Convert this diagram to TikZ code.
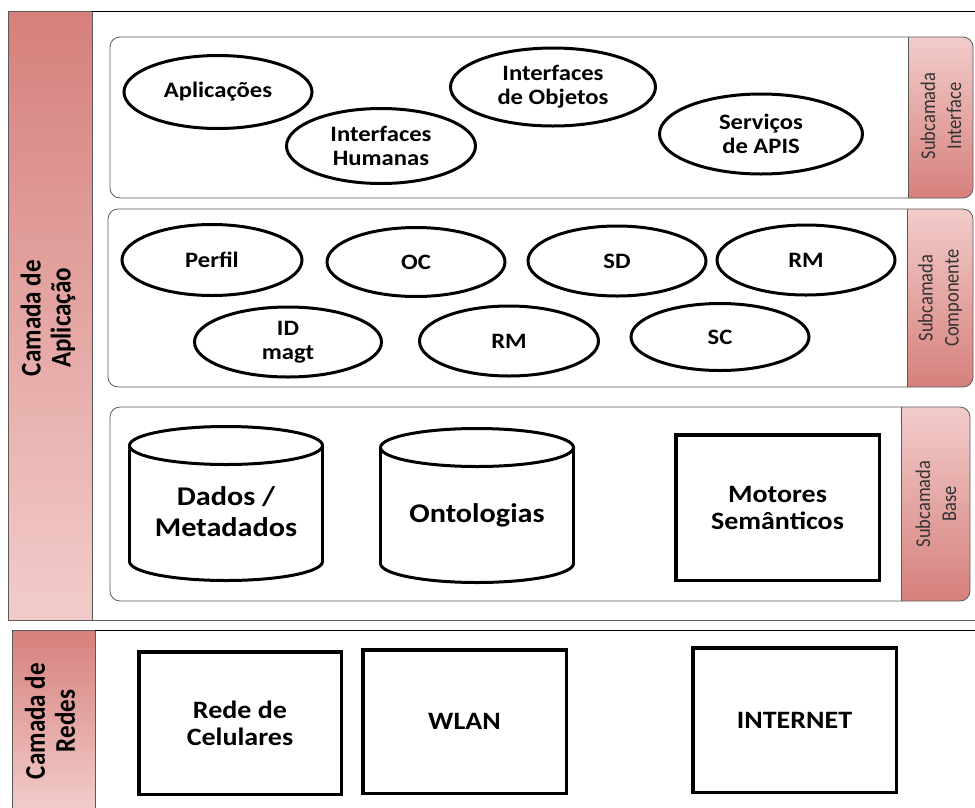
\documentclass[tikz,border=0pt]{standalone}
\usepackage{fontspec}
\setmainfont{Carlito}[FakeStretch=1.12]
\newfontfamily\sidefont{Carlito}[FakeStretch=0.88]
\usetikzlibrary{shapes.geometric}

\definecolor{stripdark}{RGB}{214,128,124}
\definecolor{striplight}{RGB}{242,204,202}
\definecolor{framegray}{RGB}{90,90,90}

% database cylinder: name, left, top, right, bottom (ellipse half-height 19)
\newcommand{\dbcylinder}[5]{%
  \pgfmathsetmacro{\cylcx}{(#2+#4)/2}%
  \pgfmathsetmacro{\cylrx}{(#4-#2)/2}%
  \draw[line width=3pt, fill=white] (\cylcx,#5-19) ellipse ({\cylrx} and 19);
  \fill[white] (#2,#3+19) rectangle (#4,#5-19);
  \draw[line width=3pt] (#2,#3+19) -- (#2,#5-19) (#4,#3+19) -- (#4,#5-19);
  \draw[line width=3pt, fill=white] (\cylcx,#3+19) ellipse ({\cylrx} and 19);
  \coordinate (#1) at (\cylcx,{(#3+#5)/2});
}

\begin{document}
\begin{tikzpicture}[x=1pt,y=-1pt,
  ell/.style={ellipse, draw, line width=3pt, align=center, inner sep=0pt,
    font=\bfseries\fontsize{22}{24}\selectfont},
  netbox/.style={rectangle, draw, line width=3.5pt, align=center, inner sep=0pt,
    font=\bfseries\fontsize{25}{27}\selectfont},
  cyltext/.style={align=center, font=\bfseries\fontsize{27}{31}\selectfont},
  sublayer/.style={draw=framegray, line width=0.8pt, rounded corners=10pt},
  tablabel/.style={rotate=90, align=center, text=black!80,
    font=\sidefont\fontsize{21}{26}\selectfont},
  layerlabel/.style={rotate=90, align=center,
    font=\sidefont\bfseries\fontsize{28.5}{30}\selectfont},
]
\useasboundingbox (0,0) rectangle (975,807);
\fill[white] (0,0) rectangle (975,807);

% ---------- application layer ----------
\shade[top color=stripdark, bottom color=striplight] (8,11) rectangle (92,620);
\draw[framegray, line width=1pt] (8,11) rectangle (92,620);
\draw[black, line width=0.8pt] (92,11) -- (975,11);
\draw[framegray, line width=0.8pt] (92,620) -- (975,620);
\node[layerlabel] (app) at (48,318) {Camada de\\Aplicação};

% interface sublayer
\begin{scope}
  \clip[rounded corners=10pt] (110,37) rectangle (973,198);
  \shade[top color=striplight, bottom color=stripdark] (908,37) rectangle (973,198);
\end{scope}
\draw[sublayer] (110,37) rectangle (973,198);
\draw[framegray, line width=0.8pt] (908,37) -- (908,198);
\node[tablabel] (tabint) at (941,116) {Subcamada\\Interface};

\node[ell, minimum width=188pt, minimum height=73pt] (apl) at (218,92) {Aplicações};
\node[ell, minimum width=189pt, minimum height=75pt] (ihum) at (381,146) {Interfaces\\Humanas};
\node[ell, minimum width=205pt, minimum height=78pt] (iobj) at (553,87) {Interfaces\\de Objetos};
\node[ell, minimum width=203pt, minimum height=80pt] (apis) at (761,134) {Serviços\\de APIS};

% component sublayer
\begin{scope}
  \clip[rounded corners=10pt] (108,209) rectangle (973,387);
  \shade[top color=striplight, bottom color=stripdark] (907,209) rectangle (973,387);
\end{scope}
\draw[sublayer] (108,209) rectangle (973,387);
\draw[framegray, line width=0.8pt] (907,209) -- (907,387);
\node[tablabel] (tabcomp) at (940,298) {Subcamada\\Componente};

\node[ell, minimum width=180pt, minimum height=71pt] (perfil) at (212,260) {Perfil};
\node[ell, minimum width=178pt, minimum height=69pt] (oc) at (416,262) {OC};
\node[ell, minimum width=178pt, minimum height=70pt] (sd) at (617,261) {SD};
\node[ell, minimum width=178pt, minimum height=70pt] (rma) at (806,260) {RM};
\node[ell, minimum width=187pt, minimum height=70pt] (idm) at (288,342) {ID\\magt};
\node[ell, minimum width=179pt, minimum height=70pt] (rmb) at (509,341) {RM};
\node[ell, minimum width=178pt, minimum height=67pt] (sc) at (720,337) {SC};

% base sublayer
\begin{scope}
  \clip[rounded corners=10pt] (110,407) rectangle (970,601);
  \shade[top color=striplight, bottom color=stripdark] (901,407) rectangle (970,601);
\end{scope}
\draw[sublayer] (110,407) rectangle (970,601);
\draw[framegray, line width=0.8pt] (901,407) -- (901,601);
\node[tablabel] (tabbase) at (936,504) {Subcamada\\Base};

\dbcylinder{dadoscyl}{129.5}{426.5}{322.5}{580.5}
\node[cyltext] (dados) at (226,512) {Dados /\\Metadados};
\dbcylinder{ontcyl}{380.5}{428.5}{573.5}{582.5}
\node[cyltext] (onto) at (477,515) {Ontologias};

\node[netbox, minimum width=203.5pt, minimum height=145.5pt] (motores) at (777.5,507.5) {Motores\\Semânticos};

% ---------- network layer ----------
\shade[top color=stripdark, bottom color=striplight] (12,630) rectangle (95,810);
\draw[framegray, line width=1pt] (12,810) -- (12,630) -- (95,630) -- (95,810);
\draw[black, line width=0.8pt] (95,630) -- (975,630);
\node[layerlabel] (net) at (50,721) {Camada de\\Redes};

\node[netbox, minimum width=202.5pt, minimum height=142.5pt] (cel) at (240,723) {Rede de\\Celulares};
\node[netbox, minimum width=203.5pt, minimum height=143.5pt] (wlan) at (464.5,721.5) {WLAN};
\node[netbox, minimum width=203.5pt, minimum height=144.5pt] (inet) at (794.5,720) {INTERNET};
\end{tikzpicture}
\end{document}
